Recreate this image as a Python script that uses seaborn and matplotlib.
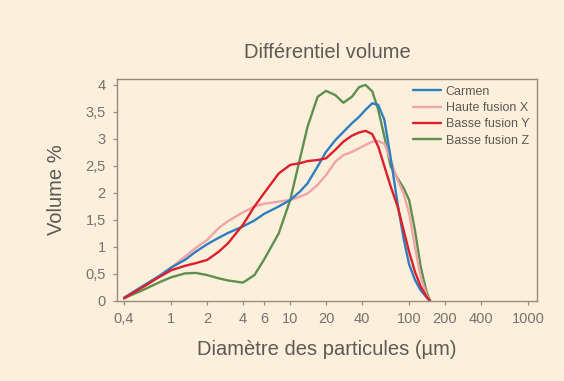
import matplotlib
matplotlib.use('Agg')
import matplotlib.pyplot as plt
import seaborn as sns
import pandas as pd

# Diamètre des particules (µm) et volume %
diametre = [0.4, 0.6, 0.8, 1, 1.3, 1.6, 2, 2.5, 3, 4, 5, 6, 8, 10, 12, 14, 17, 20,
            24, 28, 33, 38, 43, 49, 55, 62, 70, 80, 90, 100, 112, 125, 140, 150]

carmen = [0.06, 0.30, 0.47, 0.62, 0.76, 0.91, 1.05, 1.17, 1.26, 1.38, 1.49, 1.61,
          1.75, 1.87, 2.02, 2.18, 2.49, 2.76, 2.98, 3.13, 3.29, 3.41, 3.54, 3.66,
          3.63, 3.35, 2.65, 1.80, 1.15, 0.68, 0.39, 0.20, 0.07, 0.0]

haute_x = [0.06, 0.30, 0.47, 0.62, 0.82, 0.98, 1.13, 1.35, 1.48, 1.64, 1.75, 1.80,
           1.84, 1.87, 1.93, 1.99, 2.15, 2.33, 2.58, 2.70, 2.76, 2.83, 2.89, 2.95,
           2.96, 2.91, 2.61, 2.24, 1.99, 1.62, 1.00, 0.45, 0.11, 0.0]

basse_y = [0.05, 0.28, 0.45, 0.57, 0.65, 0.70, 0.76, 0.91, 1.07, 1.41, 1.75, 1.99,
           2.36, 2.52, 2.55, 2.59, 2.61, 2.64, 2.80, 2.95, 3.06, 3.12, 3.15, 3.09,
           2.86, 2.49, 2.12, 1.75, 1.31, 0.91, 0.54, 0.27, 0.08, 0.0]

basse_z = [0.05, 0.22, 0.35, 0.44, 0.51, 0.52, 0.48, 0.42, 0.38, 0.34, 0.48, 0.76,
           1.25, 1.87, 2.61, 3.23, 3.78, 3.89, 3.81, 3.67, 3.78, 3.96, 4.00, 3.88,
           3.54, 3.04, 2.49, 2.27, 2.09, 1.87, 1.31, 0.64, 0.17, 0.0]

series_names = ['Carmen', 'Haute fusion X', 'Basse fusion Y', 'Basse fusion Z']
colors = ['#2f7fc0', '#f1a3aa', '#dd1f2c', '#5f8f4c']

x_ticks = [0.4, 1, 2, 4, 6, 10, 20, 40, 100, 200, 400, 1000]
x_tick_labels = ['0,4', '1', '2', '4', '6', '10', '20', '40', '100', '200', '400', '1000']
y_ticks = [0, 0.5, 1, 1.5, 2, 2.5, 3, 3.5, 4]
y_tick_labels = ['0', '0,5', '1', '1,5', '2', '2,5', '3', '3,5', '4']

# long format table for seaborn
df = pd.DataFrame({
    'diametre': diametre * 4,
    'volume': carmen + haute_x + basse_y + basse_z,
    'serie': [s for s in series_names for _ in diametre],
})

bg = '#fcf0dc'
text_col = '#5e5954'
spine_col = '#958b7e'

sns.set_style('ticks')
plt.rcParams['font.family'] = ['Liberation Sans', 'DejaVu Sans']

fig = plt.figure(figsize=(5.64, 3.81), dpi=100, facecolor=bg)
ax = fig.add_axes([0.2074, 0.21, 0.7447, 0.5827])
ax.set_facecolor(bg)

# draw green first so the other curves sit on top
order = ['Basse fusion Z', 'Haute fusion X', 'Carmen', 'Basse fusion Y']
palette = dict(zip(series_names, colors))
for name in order:
    sns.lineplot(data=df[df['serie'] == name], x='diametre', y='volume',
                 color=palette[name], linewidth=1.7, sort=False, ax=ax,
                 label=name)

ax.set_xscale('log')
ax.set_xlim(0.349, 1190)
ax.set_ylim(0, 4.11)
ax.set_xticks(x_ticks)
ax.set_xticklabels(x_tick_labels)
ax.minorticks_off()
ax.set_yticks(y_ticks)
ax.set_yticklabels(y_tick_labels)

for sp in ax.spines.values():
    sp.set_color(spine_col)
    sp.set_linewidth(1.0)
ax.tick_params(colors=spine_col, labelcolor='#77726c', labelsize=10.5,
               length=3, width=0.9, pad=5)

ax.set_title('Différentiel volume', fontsize=14.5, color=text_col, pad=15)
ax.set_xlabel('Diamètre des particules (µm)', fontsize=14.5, color=text_col, labelpad=10)
ax.set_ylabel('Volume %', fontsize=14.5, color=text_col, labelpad=14)

handles, labels = ax.get_legend_handles_labels()
by_label = dict(zip(labels, handles))
leg = ax.legend([by_label[n] for n in series_names], series_names,
                loc='upper left', bbox_to_anchor=(0.705, 0.97), frameon=False,
                fontsize=9, handlelength=2.2, handletextpad=0.4,
                labelspacing=0.35, borderpad=0, borderaxespad=0)
for t in leg.get_texts():
    t.set_color(text_col)

fig.savefig('out.png', dpi=100, facecolor=bg)
